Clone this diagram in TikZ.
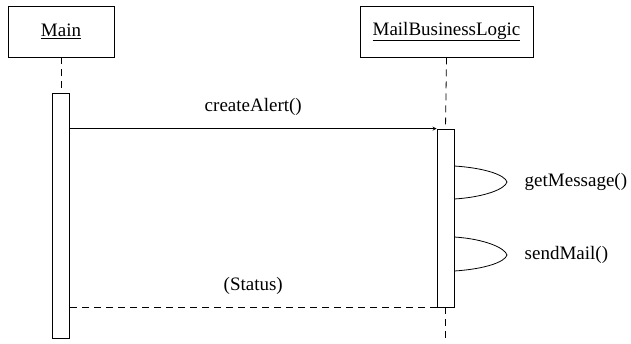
\documentclass[tikz,border=0pt]{standalone}
\usepackage{fontspec}
\setmainfont{Liberation Serif}
\usetikzlibrary{arrows}
\usetikzlibrary{calc}

\begin{document}
\begin{tikzpicture}[x=1pt, y=-1pt, line width=0.8pt, font=\fontsize{19}{21}\selectfont,
	objbox/.style={draw, minimum height=51pt, inner sep=0pt},
	actbox/.style={draw, fill=white, minimum width=17pt, inner sep=0pt},
	life/.style={dash pattern=on 7pt off 5pt}]
	\useasboundingbox (0,0) rectangle (631,343);
	
	\node[objbox, minimum width=106pt] (main) at (61,31.5) {\underline{Main}};
	\node[objbox, minimum width=173pt] (logic) at (446.5,31.5) {\underline{MailBusinessLogic}};
	
	\node[actbox, minimum height=245pt] (mainact) at (61,215.5) {};
	\node[actbox, minimum height=178pt] (logicact) at (445.5,218) {};
	\coordinate (logicend) at (445.5,343);
	
	\draw[life] (main.south) -- (mainact.north);
	\draw[life] (logic.south) -- (logicact.north);
	\draw[life] (logicact.south) -- (logicend);
	
	\draw[-stealth] (mainact.east |- logicact.north) -- node[above=9pt] (create) {createAlert()} (logicact.north west);
	\draw[life] (logicact.south west) -- node[above=9pt] (status) {(Status)} (mainact.east |- logicact.south);
	
	\coordinate (getA) at (logicact.east |- 0,166);
	\coordinate (getB) at (logicact.east |- 0,199);
	\coordinate (getTip) at (507,182);
	\draw (getA) .. controls (485,168) and (505,175) .. (getTip) .. controls (505,189) and (485,197) .. (getB);
	\node[right=14pt] (getmsg) at (getTip) {getMessage()};
	
	\coordinate (sendA) at (logicact.east |- 0,237);
	\coordinate (sendB) at (logicact.east |- 0,271);
	\coordinate (sendTip) at (507,255);
	\draw (sendA) .. controls (485,239) and (505,248) .. (sendTip) .. controls (505,262) and (485,269) .. (sendB);
	\node[right=14pt] (sendml) at (sendTip) {sendMail()};
\end{tikzpicture}
\end{document}
